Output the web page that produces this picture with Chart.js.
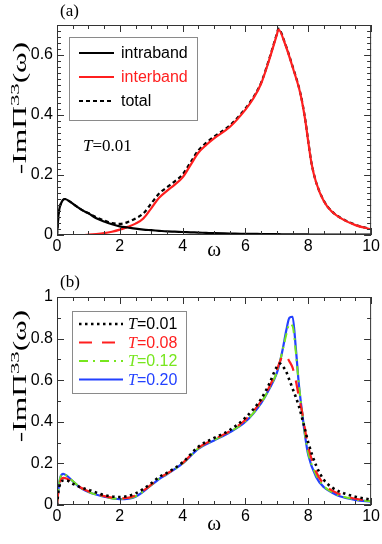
<!DOCTYPE html>
<html>
<head>
<meta charset="utf-8">
<script src="https://cdn.jsdelivr.net/npm/chart.js@4.4.1/dist/chart.umd.min.js"></script>
<style>
  html, body { margin: 0; padding: 0; background: #fff; }
  canvas { display: block; }
</style>
</head>
<body>
<canvas id="chartA" width="382" height="270"></canvas>
<canvas id="chartB" width="382" height="274"></canvas>
<script>
// panel (a): intraband / interband / total at T=0.01
const omegaA = [0, 0.05, 0.15, 0.25, 0.4, 0.6, 0.8, 1, 1.25, 1.5, 1.75, 2, 2.25, 2.5, 2.75, 3, 3.25, 3.5, 3.75, 4, 4.25, 4.5, 4.75, 5, 5.5, 6, 6.25, 6.5, 6.75, 7, 7.05, 7.25, 7.5, 7.75, 7.9, 8, 8.1, 8.25, 8.5, 8.75, 9, 9.5, 10];
const intraband = [0, 0.07, 0.11, 0.12, 0.112, 0.097, 0.083, 0.072, 0.056, 0.045, 0.036, 0.029, 0.025, 0.021, 0.018, 0.016, 0.014, 0.012, 0.011, 0.01, 0.009, 0.008, 0.007, 0.006, 0.005, 0.004, 0.004, 0.003, 0.003, 0.003, 0.003, 0.002, 0.002, 0.002, 0.002, 0.002, 0.001, 0.001, 0.001, 0.001, 0.001, 0.001, 0.001];
const interband = [0, 0, 0, 0, 0, 0, 0, 0.001, 0.003, 0.006, 0.011, 0.018, 0.027, 0.038, 0.055, 0.089, 0.124, 0.147, 0.168, 0.192, 0.233, 0.274, 0.3, 0.322, 0.36, 0.418, 0.455, 0.505, 0.582, 0.668, 0.685, 0.64, 0.56, 0.47, 0.385, 0.31, 0.24, 0.175, 0.112, 0.078, 0.058, 0.033, 0.019];
const total = [0, 0.07, 0.11, 0.12, 0.112, 0.097, 0.083, 0.073, 0.059, 0.048, 0.04, 0.037, 0.043, 0.055, 0.072, 0.105, 0.138, 0.159, 0.179, 0.202, 0.242, 0.282, 0.307, 0.328, 0.365, 0.422, 0.459, 0.508, 0.585, 0.671, 0.688, 0.642, 0.562, 0.472, 0.387, 0.312, 0.241, 0.176, 0.113, 0.079, 0.059, 0.034, 0.02];

// panel (b): total at four temperatures
const omegaB = [0, 0.05, 0.1, 0.2, 0.3, 0.5, 0.75, 1, 1.5, 2, 2.5, 3, 3.25, 3.5, 4, 4.5, 5, 5.5, 6, 6.5, 6.75, 7, 7.1, 7.2, 7.3, 7.4, 7.5, 7.6, 7.7, 7.8, 7.9, 8, 8.25, 8.5, 8.75, 9, 9.5, 10];
const t001 = [0, 0.07, 0.1, 0.118, 0.118, 0.102, 0.085, 0.073, 0.048, 0.038, 0.056, 0.104, 0.135, 0.155, 0.205, 0.28, 0.322, 0.36, 0.42, 0.51, 0.58, 0.665, 0.68, 0.665, 0.64, 0.6, 0.56, 0.52, 0.475, 0.42, 0.36, 0.3, 0.19, 0.12, 0.085, 0.064, 0.04, 0.025];
const t008 = [0, 0.075, 0.11, 0.13, 0.127, 0.108, 0.084, 0.066, 0.043, 0.032, 0.046, 0.098, 0.13, 0.151, 0.202, 0.275, 0.316, 0.355, 0.41, 0.5, 0.565, 0.65, 0.69, 0.72, 0.715, 0.69, 0.66, 0.6, 0.52, 0.45, 0.36, 0.28, 0.16, 0.1, 0.07, 0.052, 0.03, 0.02];
const t012 = [0, 0.08, 0.128, 0.15, 0.142, 0.115, 0.083, 0.063, 0.04, 0.029, 0.042, 0.096, 0.126, 0.149, 0.2, 0.272, 0.312, 0.352, 0.402, 0.492, 0.558, 0.638, 0.69, 0.755, 0.82, 0.87, 0.86, 0.74, 0.58, 0.45, 0.335, 0.25, 0.145, 0.09, 0.063, 0.045, 0.027, 0.017];
const t020 = [0, 0.08, 0.13, 0.15, 0.142, 0.115, 0.082, 0.062, 0.04, 0.028, 0.04, 0.095, 0.125, 0.148, 0.2, 0.27, 0.31, 0.35, 0.4, 0.49, 0.555, 0.635, 0.69, 0.76, 0.84, 0.9, 0.905, 0.76, 0.58, 0.45, 0.33, 0.24, 0.135, 0.085, 0.06, 0.042, 0.025, 0.016];

const xTicks = [0, 2, 4, 6, 8, 10];
const yTicksA = [0, 0.2, 0.4, 0.6];
const yTicksB = [0, 0.2, 0.4, 0.6, 0.8, 1];

const SANS = "'Liberation Sans', Arial, sans-serif";
const SERIF = "'Liberation Serif', 'Times New Roman', serif";
const RED = "#ff1f1f";
const GREEN = "#77e61e";
const BLUE = "#2341ff";

function pts(xs, ys) {
  return xs.map((x, i) => ({ x: x, y: ys[i] }));
}

function drawParts(ctx, x, y, parts) {
  let cx = x;
  for (const p of parts) {
    ctx.font = p.font;
    ctx.fillStyle = p.color || "#000";
    ctx.fillText(p.text, cx, y - (p.rise || 0));
    cx += ctx.measureText(p.text).width;
  }
  return cx - x;
}

function partsWidth(ctx, parts) {
  let w = 0;
  for (const p of parts) {
    ctx.font = p.font;
    w += ctx.measureText(p.text).width;
  }
  return w;
}

// frame with inward ticks, axis titles, legend and notes
const decorPlugin = {
  id: "decor",
  afterDraw(chart, args, opts) {
    const { ctx, chartArea: a, scales } = chart;
    const x = scales.x, y = scales.y;
    ctx.save();
    ctx.strokeStyle = "#333";
    ctx.lineWidth = 1;
    ctx.strokeRect(a.left + 0.5, a.top + 0.5, a.right - a.left - 1, a.bottom - a.top - 1);

    ctx.beginPath();
    const nx = Math.round(10 / opts.xMinor);
    for (let i = 0; i <= nx; i++) {
      const v = i * opts.xMinor;
      const px = Math.round(x.getPixelForValue(v)) + 0.5;
      const len = Math.abs(v / 2 - Math.round(v / 2)) < 1e-6 ? 7 : 4;
      ctx.moveTo(px, a.bottom); ctx.lineTo(px, a.bottom - len);
      ctx.moveTo(px, a.top); ctx.lineTo(px, a.top + len);
    }
    const ny = Math.round(y.max / opts.yMinor + 1e-6);
    for (let i = 0; i <= ny; i++) {
      const v = i * opts.yMinor;
      const py = Math.round(y.getPixelForValue(v)) + 0.5;
      const len = Math.abs(v / 0.2 - Math.round(v / 0.2)) < 1e-6 ? 7 : 4;
      ctx.moveTo(a.left, py); ctx.lineTo(a.left + len, py);
      ctx.moveTo(a.right, py); ctx.lineTo(a.right - len, py);
    }
    ctx.stroke();

    // panel label
    ctx.textBaseline = "alphabetic";
    ctx.textAlign = "left";
    drawParts(ctx, opts.panel.x, opts.panel.y, [{ text: opts.panel.text, font: "17px " + SERIF }]);

    // x title
    ctx.font = "21px " + SERIF;
    ctx.textAlign = "center";
    ctx.fillStyle = "#000";
    ctx.fillText("\u03c9", (a.left + a.right) / 2, opts.xTitleY);
    ctx.textAlign = "left";

    // y title, rotated and stretched along its length like the original
    const title = [
      { text: "-Im\u03a0", font: "18px " + SERIF },
      { text: "33", font: "13px " + SERIF, rise: 7 },
      { text: "(\u03c9)", font: "18px " + SERIF }
    ];
    ctx.save();
    ctx.translate(opts.yTitle.x, opts.yTitle.y);
    ctx.rotate(-Math.PI / 2);
    ctx.scale(1.75, 1);
    const tw = partsWidth(ctx, title);
    drawParts(ctx, -tw / 2, 0, title);
    ctx.restore();

    // legend
    const lg = opts.legend;
    ctx.fillStyle = "#fff";
    ctx.fillRect(lg.box[0], lg.box[1], lg.box[2] - lg.box[0], lg.box[3] - lg.box[1]);
    ctx.strokeStyle = "#8a8a8a";
    ctx.lineWidth = 1;
    ctx.strokeRect(lg.box[0] + 0.5, lg.box[1] + 0.5, lg.box[2] - lg.box[0], lg.box[3] - lg.box[1]);
    lg.rows.forEach((row, i) => {
      const ds = chart.data.datasets[i];
      const ry = lg.y0 + i * lg.dy;
      ctx.save();
      ctx.strokeStyle = ds.borderColor;
      ctx.lineWidth = ds.borderWidth;
      ctx.setLineDash(ds.borderDash || []);
      ctx.beginPath();
      ctx.moveTo(lg.lx0, ry);
      ctx.lineTo(lg.lx1, ry);
      ctx.stroke();
      ctx.restore();
      ctx.textBaseline = "middle";
      drawParts(ctx, lg.tx, ry + 1, row.map(p => Object.assign({ color: ds.textColor || "#000" }, p)));
    });

    // note
    if (opts.note) {
      ctx.textBaseline = "alphabetic";
      drawParts(ctx, opts.note.x, opts.note.y, [
        { text: "T", font: "italic 17px " + SERIF },
        { text: "=0.01", font: "17px " + SERIF }
      ]);
    }
    ctx.restore();
  }
};

function makeScales(yMax, yTicks, xHeight) {
  return {
    x: {
      type: "linear", min: 0, max: 10,
      afterBuildTicks: s => { s.ticks = xTicks.map(v => ({ value: v })); },
      ticks: { font: { family: SANS, size: 16 }, color: "#000", padding: 2, maxRotation: 0, autoSkip: false },
      grid: { display: false, drawTicks: false },
      border: { display: false },
      afterFit: s => { s.height = xHeight; }
    },
    y: {
      type: "linear", min: 0, max: yMax,
      afterBuildTicks: s => { s.ticks = yTicks.map(v => ({ value: v })); },
      ticks: {
        font: { family: SANS, size: 16 }, color: "#000", padding: 4, autoSkip: false,
        callback: v => String(+v.toFixed(1))
      },
      grid: { display: false, drawTicks: false },
      border: { display: false },
      afterFit: s => { s.width = 57; }
    }
  };
}

function line(label, xs, ys, color, width, dash, textColor) {
  return {
    label: label, data: pts(xs, ys), borderColor: color, borderWidth: width,
    borderDash: dash, pointRadius: 0, fill: false, tension: 0.35,
    cubicInterpolationMode: "monotone", textColor: textColor
  };
}

new Chart(document.getElementById("chartA"), {
  type: "line",
  data: {
    datasets: [
      line("intraband", omegaA, intraband, "#000", 2.2, [], "#000"),
      line("interband", omegaA, interband, RED, 2.2, [], RED),
      line("total", omegaA, total, "#000", 2.2, [4, 3], "#000")
    ]
  },
  options: {
    responsive: false,
    animation: false,
    layout: { padding: { top: 25, right: 9, left: 0, bottom: 0 } },
    scales: makeScales(0.7, yTicksA, 35),
    plugins: {
      legend: { display: false },
      tooltip: { enabled: false },
      decor: {
        xMinor: 0.5, yMinor: 0.02,
        panel: { text: "(a)", x: 60, y: 16 },
        xTitleY: 256,
        yTitle: { x: 26, y: 108 },
        legend: {
          box: [69, 37, 197, 120], y0: 53, dy: 24, lx0: 79, lx1: 114, tx: 121,
          rows: [
            [{ text: "intraband", font: "16px " + SANS }],
            [{ text: "interband", font: "16px " + SANS }],
            [{ text: "total", font: "16px " + SANS }]
          ]
        },
        note: { x: 83, y: 151 }
      }
    }
  },
  plugins: [decorPlugin]
});

const tRow = val => [
  { text: "T", font: "italic 16px " + SERIF },
  { text: "=" + val, font: "16px " + SANS }
];

new Chart(document.getElementById("chartB"), {
  type: "line",
  data: {
    datasets: [
      line("T=0.01", omegaB, t001, "#000", 2.6, [2.5, 3.5], "#000"),
      line("T=0.08", omegaB, t008, RED, 2.2, [13, 10], RED),
      line("T=0.12", omegaB, t012, GREEN, 2, [9, 5, 2, 5], GREEN),
      line("T=0.20", omegaB, t020, BLUE, 2.2, [], BLUE)
    ]
  },
  options: {
    responsive: false,
    animation: false,
    layout: { padding: { top: 27, right: 9, left: 0, bottom: 0 } },
    scales: makeScales(1, yTicksB, 39),
    plugins: {
      legend: { display: false },
      tooltip: { enabled: false },
      decor: {
        xMinor: 0.5, yMinor: 0.1,
        panel: { text: "(b)", x: 60, y: 17 },
        xTitleY: 260,
        yTitle: { x: 26, y: 106 },
        legend: {
          box: [72, 41, 186, 123], y0: 54, dy: 18.5, lx0: 79, lx1: 123, tx: 128,
          rows: [tRow("0.01"), tRow("0.08"), tRow("0.12"), tRow("0.20")]
        }
      }
    }
  },
  plugins: [decorPlugin]
});
</script>
</body>
</html>
